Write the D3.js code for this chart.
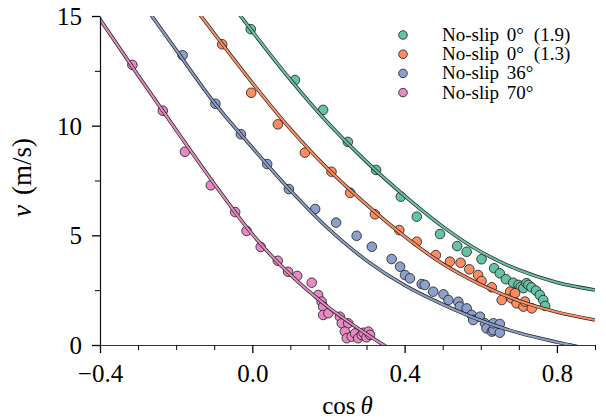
<!DOCTYPE html>
<html>
<head>
<meta charset="utf-8">
<script src="https://cdn.jsdelivr.net/npm/d3@7"></script>
<style>
html,body{margin:0;padding:0;background:#fff;}
svg{display:block;}
svg text{font-family:"Liberation Serif","DejaVu Serif","Noto Serif",serif !important;fill:#000;}
</style>
</head>
<body>
<svg id="chart" width="606" height="419"></svg>
<script>
// ---------- data ----------
const seriesNames = ["No-slip 0° (1.9)", "No-slip 0° (1.3)", "No-slip 36°", "No-slip 70°"];
const seriesColors = ["#66c2a5", "#fc8d62", "#8da0cb", "#e78ac3"];

// measured points [cos θ, v]
const green19 = [[-0.004,14.40],[0.112,12.08],[0.186,10.72],[0.251,9.26],[0.325,7.98],[0.390,6.76],[0.432,5.85],[0.493,5.06],[0.538,4.51],[0.563,4.25],[0.602,3.91],[0.635,3.50],[0.650,3.27],[0.666,3.00],[0.685,2.84],[0.699,2.74],[0.705,2.65],[0.712,2.59],[0.720,2.82],[0.725,2.74],[0.733,2.63],[0.745,2.48],[0.755,2.28],[0.764,2.05],[0.769,1.78]];
const orange13 = [[-0.079,13.71],[-0.003,11.50],[0.067,10.06],[0.138,8.77],[0.208,7.90],[0.257,6.94],[0.322,5.96],[0.386,5.24],[0.432,4.71],[0.482,4.10],[0.519,3.80],[0.547,3.75],[0.570,3.45],[0.593,3.19],[0.602,2.92],[0.629,2.63],[0.655,2.05],[0.677,2.43],[0.681,2.13],[0.690,2.36],[0.694,1.90],[0.712,1.75],[0.716,1.98],[0.734,1.67]];
const blue36 = [[-0.183,13.21],[-0.097,11.00],[-0.030,9.61],[0.039,8.25],[0.096,7.11],[0.165,6.20],[0.220,5.58],[0.274,4.98],[0.314,4.48],[0.366,3.92],[0.388,3.57],[0.401,3.19],[0.414,3.04],[0.445,2.78],[0.453,2.74],[0.475,2.43],[0.502,2.31],[0.515,2.05],[0.541,1.97],[0.545,1.75],[0.563,1.67],[0.576,1.37],[0.580,1.14],[0.598,1.29],[0.611,0.99],[0.615,0.76],[0.629,0.61],[0.633,0.68],[0.633,0.99],[0.650,0.56],[0.650,0.96]];
const pink70 = [[-0.315,12.77],[-0.235,10.68],[-0.177,8.81],[-0.109,7.28],[-0.045,6.06],[-0.015,5.20],[0.022,4.47],[0.067,3.84],[0.094,3.34],[0.118,3.15],[0.156,2.84],[0.173,2.28],[0.182,1.98],[0.186,1.75],[0.186,1.37],[0.200,1.45],[0.230,1.29],[0.235,0.99],[0.252,0.99],[0.243,0.61],[0.248,0.31],[0.261,0.38],[0.270,0.53],[0.278,0.31],[0.287,0.46],[0.292,0.56],[0.300,0.35],[0.305,0.61],[0.309,0.46]];

// fitted model curves, traced [cos θ, v]
const green19Fit = [[-0.1,16.6],[0.0,14.3],[0.1,12.1],[0.2,10.1],[0.3,8.35],[0.4,6.8],[0.5,5.4],[0.6,4.25],[0.7,3.42],[0.8,2.85],[0.9,2.51]];
const orange13Fit = [[-0.2,16.5],[-0.1,14.2],[0.0,11.95],[0.1,9.85],[0.2,8.0],[0.3,6.4],[0.4,4.95],[0.5,3.7],[0.6,2.75],[0.7,2.02],[0.8,1.5],[0.9,1.14]];
const blue36Fit = [[-0.3,15.88],[-0.2,13.45],[-0.1,11.05],[0.0,9.0],[0.1,7.05],[0.2,5.3],[0.3,3.85],[0.4,2.72],[0.5,1.85],[0.6,1.12],[0.7,0.55],[0.8,0.13],[0.835,0.0],[0.9,-0.25]];
const pink70Fit = [[-0.45,16.1],[-0.4,14.85],[-0.3,12.3],[-0.2,9.8],[-0.1,7.35],[0.0,5.05],[0.1,3.2],[0.2,1.72],[0.3,0.5],[0.345,0.0],[0.4,-0.55]];

const xMajorTicks = [-0.4, 0.0, 0.4, 0.8];
const xTickLabels = ["\u22120.4", "0.0", "0.4", "0.8"];
const xMinorTicks = [-0.3,-0.2,-0.1,0.1,0.2,0.3,0.5,0.6,0.7,0.9];
const yMajorTicks = [0, 5, 10, 15];
const yTickLabels = ["0", "5", "10", "15"];
const yMinorTicks = [2.5, 7.5, 12.5];

// ---------- drawing ----------
const FONT = "'Liberation Serif','DejaVu Serif','Noto Serif',serif";
const svg = d3.select("#chart").attr("font-family", FONT);
const L = 100, R = 595, T = 16, B = 345;
const x = d3.scaleLinear().domain([-0.4, 0.9]).range([L, R]);
const y = d3.scaleLinear().domain([0, 15]).range([B, T]);

svg.append("defs").append("clipPath").attr("id","plotclip")
  .append("rect").attr("x",L).attr("y",T).attr("width",R-L).attr("height",B-T);

const pts = [green19, orange13, blue36, pink70];
const fits = [green19Fit, orange13Fit, blue36Fit, pink70Fit];

const plot = svg.append("g").attr("clip-path","url(#plotclip)");

// scatter points
pts.forEach((arr,i)=>{
  plot.append("g").selectAll("circle").data(arr).join("circle")
    .attr("cx",d=>x(d[0])).attr("cy",d=>y(d[1])).attr("r",4.8)
    .attr("fill",seriesColors[i]).attr("stroke","#1a1a1a").attr("stroke-width",0.8);
});

// lines with dark outline
const line = d3.line().x(d=>x(d[0])).y(d=>y(d[1])).curve(d3.curveCatmullRom.alpha(0.5));
fits.forEach((arr,i)=>{
  plot.append("path").attr("d",line(arr)).attr("fill","none")
    .attr("stroke","#222").attr("stroke-width",3.5).attr("stroke-linecap","butt");
  plot.append("path").attr("d",line(arr)).attr("fill","none")
    .attr("stroke",seriesColors[i]).attr("stroke-width",2.1);
});

// axes
const xAxisMajor = d3.axisBottom(x).tickValues(xMajorTicks).tickSize(8).tickSizeOuter(0)
  .tickFormat((d,i)=>xTickLabels[i]);
const gx = svg.append("g").attr("transform",`translate(0,${B})`).call(xAxisMajor).attr("font-family",FONT);
gx.select(".domain").attr("stroke","#333").attr("stroke-width",1.2);
gx.selectAll(".tick line").attr("stroke","#000").attr("stroke-width",1.3);
gx.selectAll(".tick text").attr("font-size",25).attr("y",37).attr("dy",0)
  .attr("font-family",FONT);
svg.append("g").attr("transform",`translate(0,${B})`)
  .call(d3.axisBottom(x).tickValues(xMinorTicks).tickSize(5).tickFormat(""))
  .call(g=>g.select(".domain").remove())
  .selectAll(".tick line").attr("stroke","#000").attr("stroke-width",1);

const yAxisMajor = d3.axisLeft(y).tickValues(yMajorTicks).tickSize(8).tickSizeOuter(0)
  .tickFormat((d,i)=>yTickLabels[i]);
const gy = svg.append("g").attr("transform",`translate(${L},0)`).call(yAxisMajor).attr("font-family",FONT);
gy.select(".domain").attr("stroke","#111").attr("stroke-width",1.2);
gy.selectAll(".tick line").attr("stroke","#000").attr("stroke-width",1.3);
gy.selectAll(".tick text").attr("font-size",25).attr("x",-18).attr("dy","0.34em")
  .attr("font-family",FONT);
svg.append("g").attr("transform",`translate(${L},0)`)
  .call(d3.axisLeft(y).tickValues(yMinorTicks).tickSize(5).tickFormat(""))
  .call(g=>g.select(".domain").remove())
  .selectAll(".tick line").attr("stroke","#000").attr("stroke-width",1);

// axis labels
const xl = svg.append("text").attr("x",(L+R)/2).attr("y",414).attr("text-anchor","middle").attr("font-size",25);
xl.append("tspan").text("cos");
xl.append("tspan").attr("dx",5).attr("font-style","italic").text("θ");

const yl = svg.append("text").attr("transform",`translate(31,${(T+B)/2 - 3}) rotate(-90)`)
  .attr("text-anchor","middle").attr("font-size",27);
yl.append("tspan").attr("font-style","italic").text("v");
yl.append("tspan").attr("dx",10).text("(m/s)");

// legend
const legY0 = 35, legDY = 19.2;
seriesNames.forEach((name,i)=>{
  const gy0 = legY0 + i*legDY;
  svg.append("circle").attr("cx",403).attr("cy",gy0).attr("r",4.3)
    .attr("fill",seriesColors[i]).attr("stroke","#1a1a1a").attr("stroke-width",0.8);
  const t = svg.append("text").attr("x",442).attr("y",gy0+6).attr("font-size",19);
  const m = name.match(/^(No-slip )(\d+°)(?: (\(.*\)))?$/);
  t.append("tspan").text(m[1]);
  t.append("tspan").attr("dx",3).text(m[2]);
  if (m[3]) t.append("tspan").attr("dx",10).text(m[3]);
});
</script>
</body>
</html>
